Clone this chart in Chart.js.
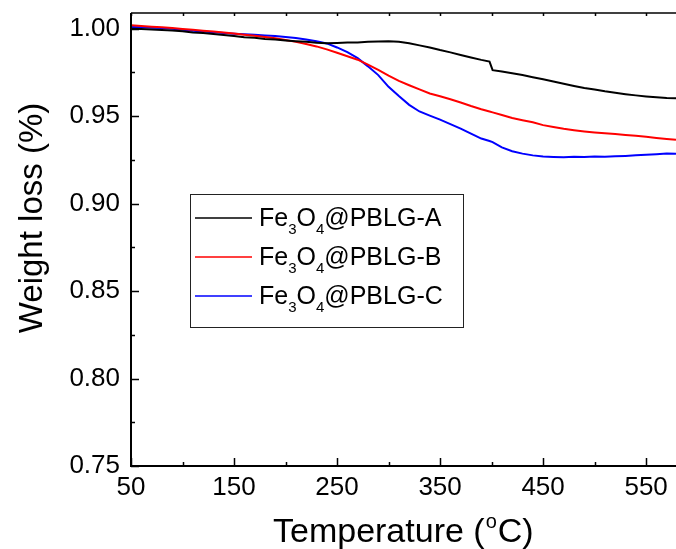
<!DOCTYPE html>
<html>
<head>
<meta charset="utf-8">
<script src="https://cdn.jsdelivr.net/npm/chart.js@4.4.1/dist/chart.umd.min.js"></script>
<style>
  html, body { margin: 0; padding: 0; background: #fff; }
  #wrap { width: 676px; height: 549px; }
</style>
</head>
<body>
<div id="wrap"><canvas id="tga" width="676" height="549"></canvas></div>
<script>
// temperature (°C) sampled from the figure
const temps = [
  50, 60, 70, 80, 90, 100, 110, 120, 130, 140, 150, 160, 170, 180, 190,
  200, 210, 220, 230, 240, 250, 260, 270, 280, 290, 300, 310, 320, 330, 340,
  350, 360, 370, 380, 390, 398, 401, 410, 420, 430, 440, 450, 460, 470, 480,
  490, 500, 510, 520, 530, 540, 550, 560, 570, 579
];

const xTickValues = [50, 100, 150, 200, 250, 300, 350, 400, 450, 500, 550];
const yTickValues = [0.75, 0.775, 0.80, 0.825, 0.85, 0.875, 0.90, 0.925, 0.95, 0.975, 1.00];

const seriesNames = ["Fe3O4@PBLG-A", "Fe3O4@PBLG-B", "Fe3O4@PBLG-C"];
const seriesColors = ["#000000", "#ff0000", "#0000ff"];

const weightA = [
  1.0000, 0.9998, 0.9996, 0.9993, 0.9990, 0.9985, 0.9979, 0.9975, 0.9970, 0.9964,
  0.9958, 0.9952, 0.9948, 0.9942, 0.9938, 0.9933, 0.9929, 0.9925, 0.9920, 0.9917,
  0.9919, 0.9922, 0.9921, 0.9925, 0.9927, 0.9929, 0.9925, 0.9917, 0.9905, 0.9893,
  0.9878, 0.9865, 0.9850, 0.9836, 0.9822, 0.9812, 0.9763, 0.9755, 0.9745, 0.9735,
  0.9723, 0.9711, 0.9698, 0.9686, 0.9673, 0.9661, 0.9652, 0.9642, 0.9634, 0.9626,
  0.9619, 0.9613, 0.9608, 0.9604, 0.9603
];

const weightB = [
  1.0020, 1.0016, 1.0012, 1.0008, 1.0004, 0.9999, 0.9994, 0.9989, 0.9984, 0.9979,
  0.9973, 0.9966, 0.9960, 0.9953, 0.9945, 0.9935, 0.9925, 0.9913, 0.9899, 0.9882,
  0.9863, 0.9843, 0.9823, 0.9795, 0.9765, 0.9732, 0.9702, 0.9677, 0.9653, 0.9630,
  0.9614, 0.9597, 0.9578, 0.9558, 0.9540, 0.9527, 0.9522, 0.9507, 0.9490, 0.9477,
  0.9465, 0.9449, 0.9438, 0.9428, 0.9420, 0.9413, 0.9407, 0.9402, 0.9398, 0.9393,
  0.9388, 0.9382, 0.9376, 0.9370, 0.9365
];

const weightC = [
  1.0010, 1.0008, 1.0006, 1.0004, 1.0000, 0.9994, 0.9988, 0.9984, 0.9980, 0.9976,
  0.9972, 0.9969, 0.9965, 0.9962, 0.9958, 0.9953, 0.9947, 0.9938, 0.9928, 0.9916,
  0.9893, 0.9866, 0.9832, 0.9785, 0.9735, 0.9668, 0.9615, 0.9565, 0.9527, 0.9503,
  0.9480, 0.9455, 0.9429, 0.9400, 0.9372, 0.9358, 0.9352, 0.9322, 0.9300, 0.9286,
  0.9276, 0.9270, 0.9267, 0.9265, 0.9268, 0.9266, 0.9270, 0.9268, 0.9271, 0.9273,
  0.9276, 0.9279, 0.9283, 0.9287, 0.9285
];

const FONT = "'Liberation Sans', Arial, sans-serif";

function isStep(v, step, base) {
  const k = (v - base) / step;
  return Math.abs(k - Math.round(k)) < 1e-6;
}

// draw text where digits are subscripts, returns end x
function drawSubText(ctx, text, x, y, size) {
  for (const ch of text) {
    if (/\d/.test(ch)) {
      ctx.font = `${Math.round(size * 0.6)}px ${FONT}`;
      ctx.fillText(ch, x, y + size * 0.3);
    } else {
      ctx.font = `${size}px ${FONT}`;
      ctx.fillText(ch, x, y);
    }
    x += ctx.measureText(ch).width;
  }
  return x;
}

const framePlugin = {
  id: "frame",
  afterDatasetsDraw(chart) {
    const { ctx, chartArea: a, scales } = chart;
    const x = scales.x, y = scales.y;
    ctx.save();
    ctx.strokeStyle = "#000";
    ctx.lineCap = "butt";

    // axis lines
    ctx.lineWidth = 2;
    ctx.beginPath();
    ctx.moveTo(a.left, a.top);
    ctx.lineTo(a.left, a.bottom);
    ctx.lineTo(a.right, a.bottom);
    ctx.stroke();
    ctx.lineWidth = 1.5;
    ctx.beginPath();
    ctx.moveTo(a.left, a.top);
    ctx.lineTo(a.right, a.top);
    ctx.stroke();

    // inward ticks
    ctx.lineWidth = 1.5;
    ctx.beginPath();
    x.ticks.forEach((t) => {
      const px = Math.round(x.getPixelForValue(t.value)) + 0.5;
      const len = isStep(t.value, 100, 50) ? 8 : 4;
      ctx.moveTo(px, a.bottom);
      ctx.lineTo(px, a.bottom - len);
      ctx.moveTo(px, a.top);
      ctx.lineTo(px, a.top + 3);
    });
    y.ticks.forEach((t) => {
      const py = Math.round(y.getPixelForValue(t.value)) + 0.5;
      const len = isStep(t.value, 0.05, 0.75) ? 8 : 4;
      ctx.moveTo(a.left, py);
      ctx.lineTo(a.left + len, py);
    });
    ctx.stroke();

    // legend
    const box = { l: 190, t: 194, r: 463, b: 327 };
    ctx.lineWidth = 1;
    ctx.strokeStyle = "#222";
    ctx.strokeRect(box.l + 0.5, box.t + 0.5, box.r - box.l, box.b - box.t);
    const rows = [218, 257, 296];
    chart.data.datasets.forEach((ds, i) => {
      const ry = rows[i];
      ctx.strokeStyle = ds.borderColor;
      ctx.lineWidth = 1.5;
      ctx.beginPath();
      ctx.moveTo(195, ry);
      ctx.lineTo(252, ry);
      ctx.stroke();
      ctx.fillStyle = "#000";
      ctx.textBaseline = "alphabetic";
      ctx.textAlign = "left";
      drawSubText(ctx, seriesNames[i], 259, ry + 8, 25);
    });

    // axis titles
    ctx.fillStyle = "#000";
    ctx.textBaseline = "alphabetic";
    ctx.font = `34px ${FONT}`;
    ctx.textAlign = "left";
    let tx = 273;
    const tb = 542;
    ctx.fillText("Temperature (", tx, tb);
    tx += ctx.measureText("Temperature (").width;
    ctx.font = `20px ${FONT}`;
    ctx.fillText("o", tx + 1, tb - 14);
    tx += ctx.measureText("o").width + 2;
    ctx.font = `34px ${FONT}`;
    ctx.fillText("C)", tx, tb);

    ctx.save();
    ctx.translate(42, 218);
    ctx.rotate(-Math.PI / 2);
    ctx.textAlign = "center";
    ctx.font = `33px ${FONT}`;
    ctx.fillText("Weight loss (%)", 0, 0);
    ctx.restore();

    ctx.restore();
  },
};

const toPoints = (vals) => temps.map((t, i) => ({ x: t, y: vals[i] }));

new Chart(document.getElementById("tga"), {
  type: "line",
  data: {
    datasets: [weightA, weightB, weightC].map((vals, i) => ({
      label: seriesNames[i],
      data: toPoints(vals),
      borderColor: seriesColors[i],
      backgroundColor: seriesColors[i],
      borderWidth: 2,
      pointRadius: 0,
      tension: 0,
      fill: false,
    })),
  },
  options: {
    responsive: false,
    animation: false,
    layout: { padding: { top: 13, right: 0, left: 0, bottom: 0 } },
    plugins: { legend: { display: false }, tooltip: { enabled: false } },
    scales: {
      x: {
        type: "linear",
        min: 50,
        max: 579,
        grid: { display: false, drawTicks: false },
        border: { display: false },
        afterBuildTicks: (s) => {
          s.ticks = xTickValues.map((v) => ({ value: v }));
        },
        afterFit: (s) => {
          s.height = 83;
          s.paddingLeft = 0;
          s.paddingRight = 0;
        },
        ticks: {
          autoSkip: false,
          maxRotation: 0,
          padding: 6,
          color: "#000",
          font: { family: FONT, size: 26 },
          callback: (v) => (isStep(v, 100, 50) ? String(Math.round(v)) : ""),
        },
      },
      y: {
        type: "linear",
        min: 0.75,
        max: 1.009,
        grid: { display: false, drawTicks: false },
        border: { display: false },
        afterBuildTicks: (s) => {
          s.ticks = yTickValues.map((v) => ({ value: v }));
        },
        afterFit: (s) => {
          s.width = 131;
          s.paddingTop = 0;
          s.paddingBottom = 0;
        },
        ticks: {
          autoSkip: false,
          padding: 11,
          color: "#000",
          font: { family: FONT, size: 26 },
          callback: (v) => (isStep(v, 0.05, 0.75) ? v.toFixed(2) : ""),
        },
      },
    },
  },
  plugins: [framePlugin],
});
</script>
</body>
</html>
